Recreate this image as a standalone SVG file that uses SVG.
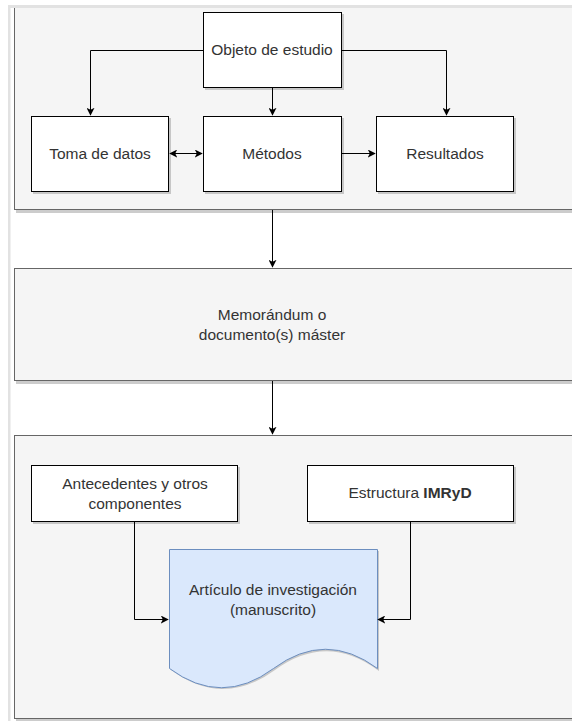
<svg xmlns="http://www.w3.org/2000/svg" width="572" height="721" viewBox="0 0 572 721">
<style>
text{font-family:"Liberation Sans",Arial,sans-serif;font-size:15.5px;fill:#333;text-anchor:middle}
.box{fill:#fff;stroke:#000;stroke-width:1}
.cont{fill:#f5f5f5;stroke:#666;stroke-width:1}
.sh{fill:#999;opacity:0.5}
.ln{fill:none;stroke:#000;stroke-width:1}
</style>
<defs>
<marker id="ah" viewBox="0 0 10 10" refX="9" refY="5" markerWidth="8" markerHeight="8" markerUnits="userSpaceOnUse" orient="auto-start-reverse">
<path d="M0,0 L10,5 L0,10 L2.5,5 Z" fill="#000"/>
</marker>
</defs>
<rect x="0" y="0" width="572" height="721" fill="#fff"/>

<g id="container1">
<rect class="sh" x="16" y="10" width="570" height="203"/>
<rect class="cont" x="14.5" y="7.5" width="570" height="202"/>
</g>
<g id="memorandum">
<rect class="sh" x="16" y="270" width="570" height="114"/>
<rect class="cont" x="14.5" y="268.5" width="570" height="112"/>
<text x="272" y="320">Memorándum o</text>
<text x="272" y="340">documento(s) máster</text>
</g>
<g id="container3">
<rect class="sh" x="16" y="437" width="570" height="284"/>
<rect class="cont" x="14.5" y="435.5" width="570" height="283"/>
</g>
<rect x="8" y="5" width="564" height="3" fill="#e2e2e2"/>
<rect x="8" y="5" width="2.5" height="716" fill="#e2e2e2"/>

<g id="objeto">
<rect class="sh" x="205" y="14" width="139" height="76"/>
<rect class="box" x="203.5" y="12.5" width="138" height="75"/>
<text x="272" y="55">Objeto de estudio</text>
</g>
<g id="toma">
<rect class="sh" x="33" y="118" width="138" height="76"/>
<rect class="box" x="31.5" y="116.5" width="137" height="75"/>
<text x="100" y="159">Toma de datos</text>
</g>
<g id="metodos">
<rect class="sh" x="205" y="118" width="139" height="76"/>
<rect class="box" x="203.5" y="116.5" width="138" height="75"/>
<text x="272" y="159">Métodos</text>
</g>
<g id="resultados">
<rect class="sh" x="378" y="118" width="138" height="76"/>
<rect class="box" x="376.5" y="116.5" width="137" height="75"/>
<text x="445" y="159">Resultados</text>
</g>
<g id="antecedentes">
<rect class="sh" x="33" y="467" width="207" height="57"/>
<rect class="box" x="31.5" y="465.5" width="206" height="56"/>
<text x="135" y="489">Antecedentes y otros</text>
<text x="135" y="509">componentes</text>
</g>
<g id="estructura">
<rect class="sh" x="309" y="467" width="207" height="57"/>
<rect class="box" x="307.5" y="465.5" width="206" height="56"/>
<text x="410" y="498">Estructura <tspan style="font-weight:bold">IMRyD</tspan></text>
</g>
<g id="articulo">
<path d="M171,551 H379 V671 Q327,632 275,670 T171,670 Z" fill="#999" opacity="0.5"/>
<path d="M169.5,549.5 H377.5 V668.5 Q325.5,630 273.5,668.5 T169.5,668.5 Z" fill="#dae8fc" stroke="#6c8ebf" stroke-width="1"/>
<text x="273" y="595">Artículo de investigación</text>
<text x="273" y="615">(manuscrito)</text>
</g>

<g id="connectors">
<path class="ln" d="M203,50.5 H90.5 V115" marker-end="url(#ah)"/>
<path class="ln" d="M342,50.5 H446.5 V115" marker-end="url(#ah)"/>
<path class="ln" d="M272.5,88 V115" marker-end="url(#ah)"/>
<path class="ln" d="M170,153.5 H202" marker-start="url(#ah)" marker-end="url(#ah)"/>
<path class="ln" d="M342,153.5 H375" marker-end="url(#ah)"/>
<path class="ln" d="M272.5,210 V267" marker-end="url(#ah)"/>
<path class="ln" d="M272.5,381 V434" marker-end="url(#ah)"/>
<path class="ln" d="M134.5,522 V619.5 H168" marker-end="url(#ah)"/>
<path class="ln" d="M410.5,522 V619.5 H378" marker-end="url(#ah)"/>
</g>
</svg>
